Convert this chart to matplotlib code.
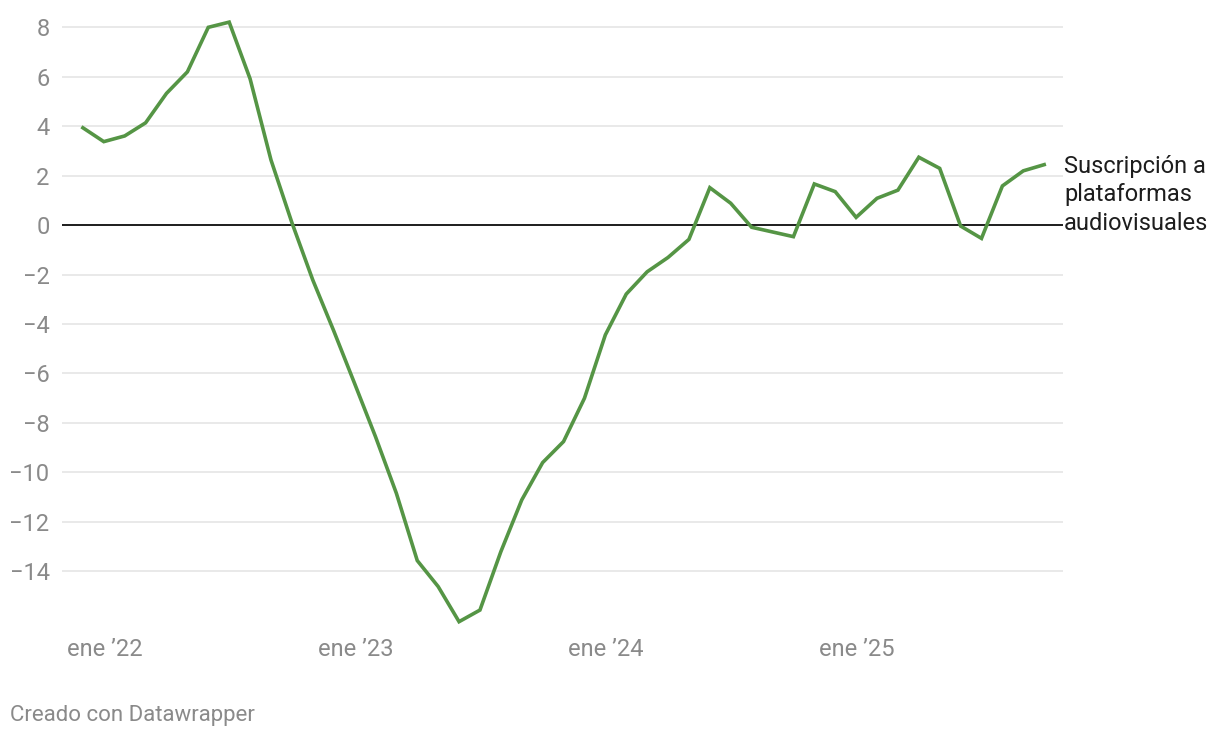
import matplotlib.pyplot as plt

plt.rcParams['font.family'] = ['Roboto', 'DejaVu Sans']

# monthly values, ene 2022 .. nov 2025
values = [3.93, 3.37, 3.6, 4.13, 5.32, 6.19, 7.99, 8.2, 5.91, 2.63, 0.1, -2.22,
          -4.27, -6.4, -8.55, -10.84, -13.56, -14.61, -16.03, -15.56, -13.2, -11.11, -9.6, -8.75,
          -7.0, -4.44, -2.79, -1.89, -1.31, -0.58, 1.51, 0.88, -0.09, -0.28, -0.47, 1.66,
          1.35, 0.31, 1.08, 1.41, 2.74, 2.29, -0.04, -0.54, 1.58, 2.19, 2.44]
months = list(range(len(values)))
tick_pos = [0, 12, 24, 36]
tick_labels = ["ene \u201922", "ene \u201923", "ene \u201924", "ene \u201925"]
yticks = [-14, -12, -10, -8, -6, -4, -2, 0, 2, 4, 6, 8]
series_label = "Suscripción a\nplataformas\naudiovisuales"

fig = plt.figure(figsize=(12.2, 7.38), dpi=100)
ax = fig.add_axes([62 / 1220, 1 - 640 / 738, 1001 / 1220, 630 / 738])

for y in yticks:
    if y == 0:
        ax.axhline(y, color='#1d1d1d', lw=1.4, zorder=2)
    else:
        ax.axhline(y, color='#e3e3e3', lw=1.1, zorder=1)

ax.plot(months, values, color='#559545', lw=2.6, solid_joinstyle='miter', zorder=3)

ax.set_xlim(-1.0, 46.9)
ax.set_ylim(-16.77, 8.69)
ax.set_yticks(yticks)
ax.set_yticklabels([f"{y}".replace('-', '\u2212') for y in yticks])
ax.tick_params(axis='y', length=0, pad=9, labelsize=17, labelcolor='#8a8a8a')
ax.set_xticks([])
for p, lab in zip(tick_pos, tick_labels):
    ax.annotate(lab, xy=(p, 0), xycoords=('data', 'axes fraction'),
                xytext=(-16, -10), textcoords='offset pixels',
                ha='left', va='center', fontsize=17, color='#8a8a8a')

for s in ax.spines.values():
    s.set_visible(False)

ax.annotate(series_label, xy=(months[-1], values[-1]), xytext=(20, -30),
            textcoords='offset pixels', ha='left', va='center',
            fontsize=17, color='#1d1d1d', linespacing=1.3, annotation_clip=False)

fig.text(10 / 1220, 1 - 715 / 738, "Creado con Datawrapper", fontsize=16,
         color='#8a8a8a', ha='left', va='center')

fig.savefig('out.png', dpi=100)
